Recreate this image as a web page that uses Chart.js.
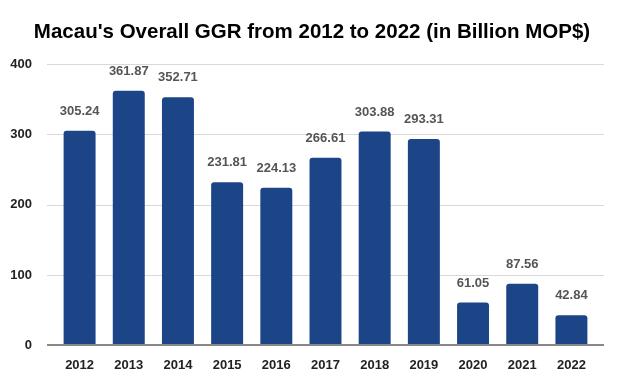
<!DOCTYPE html>
<html>
<head>
<meta charset="utf-8">
<script src="https://cdn.jsdelivr.net/npm/chart.js@4.4.0/dist/chart.umd.min.js"></script>
<style>
  html, body { margin: 0; padding: 0; background: #fff; }
  #wrap { width: 624px; height: 385px; }
</style>
</head>
<body>
<div id="wrap"><canvas id="ggrChart"></canvas></div>
<script>
const years = ["2012", "2013", "2014", "2015", "2016", "2017", "2018", "2019", "2020", "2021", "2022"]
const ggr = [305.24, 361.87, 352.71, 231.81, 224.13, 266.61, 303.88, 293.31, 61.05, 87.56, 42.84]
const yTicks = [0, 100, 200, 300, 400]
const titleText = "Macau's Overall GGR from 2012 to 2022 (in Billion MOP$)"

const FONT = "'Liberation Sans', Arial, sans-serif"

// title is drawn by hand so it can sit centred on the whole canvas
const chartTitle = {
  id: "chartTitle",
  afterDraw(chart) {
    const ctx = chart.ctx
    ctx.save()
    ctx.font = "bold 20.5px " + FONT
    ctx.fillStyle = "#000"
    ctx.textAlign = "center"
    ctx.textBaseline = "alphabetic"
    ctx.fillText(titleText, 312, 38)
    ctx.restore()
  },
}

// gridlines + baseline run a bit past the bars on both sides
const gridLines = {
  id: "gridLines",
  beforeDatasetsDraw(chart) {
    const { ctx, chartArea, scales } = chart
    const left = chartArea.left - 8
    const right = chartArea.right + 8
    ctx.save()
    yTicks.forEach((v) => {
      const y = Math.round(scales.y.getPixelForValue(v))
      if (v === 0) return
      ctx.strokeStyle = "#d9d9d9"
      ctx.lineWidth = 1
      ctx.beginPath()
      ctx.moveTo(left, y + 0.5)
      ctx.lineTo(right, y + 0.5)
      ctx.stroke()
    })
    ctx.restore()
  },
  afterDatasetsDraw(chart) {
    const { ctx, chartArea, scales } = chart
    const y = Math.round(scales.y.getPixelForValue(0))
    ctx.save()
    ctx.strokeStyle = "#888888"
    ctx.lineWidth = 2
    ctx.beginPath()
    ctx.moveTo(chartArea.left - 8, y)
    ctx.lineTo(chartArea.right + 8, y)
    ctx.stroke()
    ctx.restore()
  },
}

// draws the value above each bar
const valueLabels = {
  id: "valueLabels",
  afterDatasetsDraw(chart) {
    const ctx = chart.ctx
    const meta = chart.getDatasetMeta(0)
    ctx.save()
    ctx.font = "bold 13px " + FONT
    ctx.fillStyle = "#555555"
    ctx.textAlign = "center"
    ctx.textBaseline = "bottom"
    meta.data.forEach((bar, i) => {
      ctx.fillText(ggr[i].toFixed(2), bar.x, bar.y - 13)
    })
    ctx.restore()
  },
}

const ctx = document.getElementById("ggrChart").getContext("2d")
new Chart(ctx, {
  type: "bar",
  data: {
    labels: years,
    datasets: [
      {
        data: ggr,
        backgroundColor: "#1c4587",
        borderRadius: 3,
        borderSkipped: "bottom",
        categoryPercentage: 0.65,
        barPercentage: 1,
      },
    ],
  },
  options: {
    responsive: true,
    maintainAspectRatio: false,
    animation: false,
    layout: { padding: { left: 10, right: 28, top: 64, bottom: 8 } },
    plugins: {
      legend: { display: false },
      tooltip: { enabled: false },
      title: { display: false },
    },
    scales: {
      x: {
        grid: { display: false },
        border: { display: false },
        ticks: {
          color: "#222",
          font: { family: FONT, size: 13, weight: "bold" },
          padding: 4,
        },
      },
      y: {
        min: yTicks[0],
        max: yTicks[yTicks.length - 1],
        afterBuildTicks: (axis) => {
          axis.ticks = yTicks.map((v) => ({ value: v }))
        },
        afterFit: (axis) => {
          axis.width = 45
        },
        grid: { display: false },
        border: { display: false },
        ticks: {
          color: "#222",
          font: { family: FONT, size: 13, weight: "bold" },
          padding: 15,
        },
      },
    },
  },
  plugins: [chartTitle, gridLines, valueLabels],
})
</script>
</body>
</html>
